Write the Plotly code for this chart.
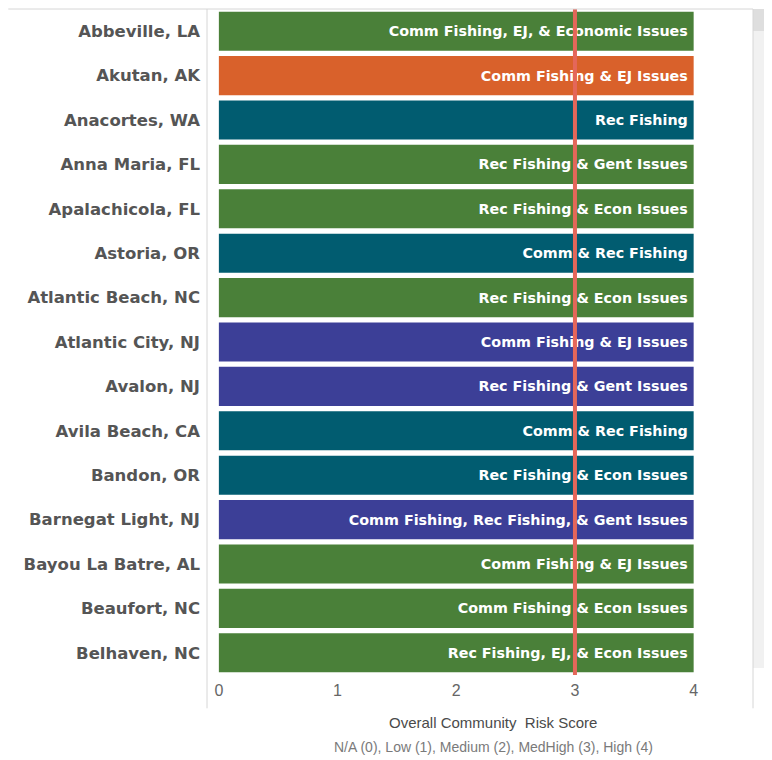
import plotly.graph_objects as go

communities = ["Abbeville, LA", "Akutan, AK", "Anacortes, WA", "Anna Maria, FL",
               "Apalachicola, FL", "Astoria, OR", "Atlantic Beach, NC", "Atlantic City, NJ",
               "Avalon, NJ", "Avila Beach, CA", "Bandon, OR", "Barnegat Light, NJ",
               "Bayou La Batre, AL", "Beaufort, NC", "Belhaven, NC"]
risk_score = [4, 4, 4, 4, 4, 4, 4, 4, 4, 4, 4, 4, 4, 4, 4]
issues = ["Comm Fishing, EJ, & Economic Issues", "Comm Fishing & EJ Issues", "Rec Fishing",
          "Rec Fishing & Gent Issues", "Rec Fishing & Econ Issues", "Comm & Rec Fishing",
          "Rec Fishing & Econ Issues", "Comm Fishing & EJ Issues", "Rec Fishing & Gent Issues",
          "Comm & Rec Fishing", "Rec Fishing & Econ Issues",
          "Comm Fishing, Rec Fishing, & Gent Issues", "Comm Fishing & EJ Issues",
          "Comm Fishing & Econ Issues", "Rec Fishing, EJ, & Econ Issues"]
group = ["green", "orange", "teal", "green", "green", "teal", "green", "purple",
         "purple", "teal", "teal", "purple", "green", "green", "green"]
threshold = 3

palette = {"green": "#4a8039", "orange": "#d9612b", "teal": "#015c70", "purple": "#3c3f97"}
bar_colors = [palette[g] for g in group]

fig = go.Figure(go.Bar(
    x=risk_score, y=communities, orientation="h",
    marker=dict(color=bar_colors, line=dict(width=0)),
    text=[t + "\u2009" for t in issues],  # thin space = a bit more right padding
    textposition="inside", insidetextanchor="end",
    textfont=dict(family="DejaVu Sans", size=14.3, color="white", weight="bold"),
    hoverinfo="skip",
))

# threshold line at MedHigh (3)
fig.add_shape(type="line", x0=threshold, x1=threshold, y0=0, y1=1, yref="paper",
              line=dict(color="#e4675a", width=4), layer="above")

# frame / scrollbar bits
gray = "#d6d6d6"
fig.add_shape(type="line", xref="paper", yref="paper", x0=-0.364, x1=1, y0=1, y1=1,
              line=dict(color=gray, width=1))
fig.add_shape(type="line", xref="paper", yref="paper", x0=0, x1=0, y0=-0.05, y1=1,
              line=dict(color=gray, width=1))
fig.add_shape(type="rect", xref="paper", yref="paper", x0=1, x1=1.04, y0=0.0105, y1=1,
              fillcolor="#f1f1f1", line=dict(width=0), layer="below")
fig.add_shape(type="rect", xref="paper", yref="paper", x0=1, x1=1.04, y0=0.967, y1=1,
              fillcolor="#dedede", line=dict(width=0), layer="below")
fig.add_shape(type="line", xref="paper", yref="paper", x0=1, x1=1, y0=-0.05, y1=1,
              line=dict(color=gray, width=1))

fig.add_annotation(text="Overall Community  Risk Score", xref="paper", yref="paper",
                   x=0.524, y=-0.072, showarrow=False, yanchor="middle",
                   font=dict(family="Liberation Sans", size=15, color="#4a4a4a"))
fig.add_annotation(text="N/A (0), Low (1), Medium (2), MedHigh (3), High (4)",
                   xref="paper", yref="paper", x=0.524, y=-0.108, showarrow=False,
                   yanchor="middle", font=dict(family="Liberation Sans", size=14, color="#7a7a7a"))

# page has an 8px body margin, so the figure is drawn 8px smaller
fig.update_layout(
    width=764, height=752,
    margin=dict(l=199, r=19, t=1, b=85),
    paper_bgcolor="white", plot_bgcolor="white",
    bargap=0.12, showlegend=False,
    xaxis=dict(range=[-0.1, 4.5], tickvals=[0, 1, 2, 3, 4], showgrid=False, zeroline=False,
               showline=False, ticks="", ticklabelstandoff=4,
               tickfont=dict(family="Liberation Sans", size=16, color="#666666")),
    yaxis=dict(autorange="reversed", showgrid=False, zeroline=False, showline=False,
               ticks="", ticklabelstandoff=6,
               tickfont=dict(family="DejaVu Sans", size=16.5, color="#555555", weight="bold")),
)

fig.write_html("out.html")
